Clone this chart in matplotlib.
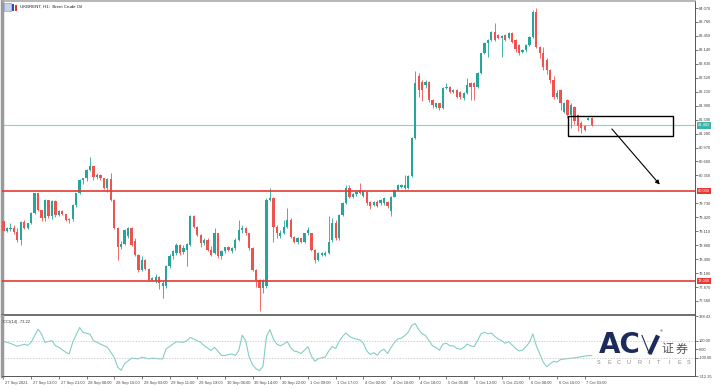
import numpy as np
import matplotlib
matplotlib.use("Agg")
import matplotlib.pyplot as plt
from matplotlib.patches import Rectangle
from matplotlib.lines import Line2D
from matplotlib.transforms import blended_transform_factory, ScaledTranslation

# --- UKBRENT H1 candles ---
opens = [
    79.34, 79.12, 79.16, 79.19, 79.09, 78.92, 79.31, 79.18, 79.29, 79.51,
    79.95, 79.58, 79.40, 79.80, 79.44, 79.78, 79.47, 79.56, 79.49, 79.36,
    79.38, 79.69, 79.95, 80.25, 80.29, 80.47, 80.55, 80.32, 80.36, 80.29,
    80.08, 80.28, 79.80, 79.18, 78.76, 78.83, 79.00, 79.18, 78.90, 78.58,
    78.25, 78.46, 78.28, 78.03, 78.00, 78.10, 77.90, 77.90, 78.33, 78.55,
    78.62, 78.80, 78.64, 78.70, 78.80, 79.44, 79.21, 79.03, 78.85, 78.92,
    78.69, 78.62, 79.06, 78.55, 78.66, 78.75, 78.68, 78.73, 78.92, 79.14,
    79.18, 79.06, 78.73, 78.25, 78.03, 77.85, 77.90, 79.81, 79.84, 79.21,
    79.00, 79.08, 79.21, 79.36, 78.99, 78.88, 78.95, 78.88, 79.06, 79.06,
    78.70, 78.47, 78.58, 78.58, 78.62, 78.92, 79.29, 78.95, 79.47, 79.74,
    80.07, 79.88, 79.93, 80.02, 79.90, 79.99, 79.77, 79.70, 79.77, 79.73,
    79.73, 79.77, 79.55, 79.88, 80.03, 80.10, 80.07, 80.07, 80.33, 81.18,
    82.55, 82.43, 82.36, 82.43, 82.03, 81.88, 81.95, 81.84, 82.29, 82.32,
    82.21, 82.25, 82.21, 82.07, 82.18, 82.40, 82.40, 82.32, 82.62, 83.06,
    83.29, 83.36, 83.54, 83.47, 83.40, 83.47, 83.40, 83.51, 83.36, 83.25,
    83.10, 83.14, 83.25, 83.43, 83.99, 83.21, 83.06, 82.92, 82.69, 82.47,
    82.10, 82.25, 81.77, 82.03, 81.70, 81.88, 81.70, 81.51, 81.44, 81.59,
    81.62,
]
highs = [
    79.36, 79.21, 79.29, 79.25, 79.18, 79.34, 79.36, 79.30, 79.53, 79.97,
    79.97, 79.58, 79.82, 79.80, 79.80, 79.80, 79.58, 79.58, 79.50, 79.40,
    79.72, 79.97, 80.27, 80.30, 80.50, 80.77, 80.55, 80.40, 80.38, 80.30,
    80.30, 80.40, 79.82, 79.20, 78.90, 79.16, 79.20, 79.20, 78.95, 78.60,
    78.55, 78.50, 78.30, 78.10, 78.15, 78.12, 78.00, 78.35, 78.60, 78.70,
    78.84, 78.82, 78.80, 78.84, 79.47, 79.47, 79.23, 79.05, 78.95, 78.95,
    78.78, 79.18, 79.08, 78.70, 78.77, 78.78, 78.77, 78.95, 79.36, 79.25,
    79.20, 79.08, 78.75, 78.28, 78.05, 78.05, 79.84, 80.07, 79.88, 79.25,
    79.14, 79.36, 79.62, 79.40, 79.00, 78.99, 78.97, 79.08, 79.21, 79.08,
    78.72, 78.64, 78.64, 78.66, 79.44, 79.40, 79.36, 79.50, 79.76, 80.14,
    80.14, 79.97, 80.00, 80.18, 80.03, 80.01, 79.79, 79.79, 79.80, 79.83,
    79.86, 79.79, 79.90, 80.05, 80.16, 80.17, 80.36, 80.36, 81.20, 82.66,
    82.62, 82.47, 82.47, 82.45, 82.05, 81.97, 81.97, 82.32, 82.40, 82.34,
    82.27, 82.27, 82.23, 82.20, 82.51, 82.43, 82.42, 82.64, 83.08, 83.31,
    83.38, 83.56, 83.73, 83.49, 83.47, 83.49, 83.53, 83.53, 83.38, 83.28,
    83.17, 83.28, 83.45, 84.03, 84.07, 83.23, 83.21, 82.95, 82.71, 82.55,
    82.25, 82.28, 81.98, 82.05, 81.95, 81.90, 81.72, 81.55, 81.46, 81.64,
    81.64,
]
lows = [
    79.09, 79.09, 79.12, 79.04, 78.88, 78.81, 79.16, 79.15, 79.27, 79.49,
    79.55, 79.33, 79.33, 79.40, 79.38, 79.42, 79.45, 79.46, 79.34, 79.30,
    79.34, 79.65, 79.93, 80.15, 80.22, 80.45, 80.24, 80.28, 80.24, 80.05,
    79.99, 79.78, 79.15, 78.47, 78.72, 78.80, 78.95, 78.78, 78.55, 78.20,
    78.22, 78.25, 78.00, 78.00, 77.95, 77.82, 77.62, 77.85, 78.30, 78.50,
    78.58, 78.58, 78.60, 78.33, 78.78, 79.18, 79.00, 78.77, 78.80, 78.66,
    78.55, 78.60, 78.52, 78.50, 78.62, 78.66, 78.62, 78.70, 78.90, 79.06,
    79.03, 78.70, 78.22, 77.88, 77.33, 77.73, 77.85, 79.78, 78.88, 78.95,
    78.97, 79.05, 79.18, 78.95, 78.84, 78.82, 78.84, 78.85, 79.02, 78.66,
    78.40, 78.44, 78.55, 78.55, 78.60, 78.88, 78.92, 78.92, 79.44, 79.72,
    79.84, 79.85, 79.90, 79.94, 79.88, 79.70, 79.60, 79.68, 79.64, 79.70,
    79.70, 79.62, 79.44, 79.86, 80.01, 80.08, 80.05, 80.05, 80.31, 81.16,
    82.10, 82.00, 82.30, 81.99, 81.84, 81.85, 81.80, 81.82, 82.27, 82.18,
    82.18, 82.08, 82.05, 82.03, 82.15, 82.03, 82.03, 82.30, 82.60, 83.04,
    82.99, 83.34, 83.34, 83.38, 82.99, 83.34, 83.38, 83.30, 83.10, 83.03,
    83.08, 83.10, 83.22, 83.40, 83.18, 82.95, 82.70, 82.60, 82.40, 82.05,
    82.05, 81.81, 81.73, 81.62, 81.40, 81.50, 81.33, 81.30, 81.33, 81.58,
    81.44,
]
closes = [
    79.12, 79.18, 79.19, 79.09, 78.92, 79.31, 79.18, 79.29, 79.51, 79.95,
    79.58, 79.40, 79.80, 79.44, 79.78, 79.47, 79.56, 79.49, 79.36, 79.38,
    79.69, 79.95, 80.25, 80.29, 80.47, 80.55, 80.32, 80.36, 80.29, 80.08,
    80.28, 79.80, 79.18, 78.76, 78.83, 79.14, 79.18, 78.80, 78.58, 78.25,
    78.46, 78.28, 78.03, 78.07, 78.10, 77.95, 77.95, 78.33, 78.55, 78.66,
    78.80, 78.62, 78.74, 78.82, 79.44, 79.21, 79.03, 78.85, 78.92, 78.69,
    78.58, 79.06, 78.55, 78.66, 78.75, 78.70, 78.73, 78.92, 79.14, 79.18,
    79.06, 78.73, 78.25, 78.03, 77.85, 78.03, 79.81, 79.84, 79.21, 79.06,
    79.08, 79.21, 79.36, 78.99, 78.88, 78.95, 78.88, 79.06, 79.14, 78.70,
    78.47, 78.62, 78.62, 78.62, 78.88, 79.29, 78.95, 79.47, 79.74, 80.07,
    79.88, 79.94, 79.98, 79.96, 80.00, 79.73, 79.66, 79.77, 79.66, 79.81,
    79.84, 79.66, 79.88, 80.03, 80.14, 80.14, 80.14, 80.33, 81.18, 82.40,
    82.25, 82.25, 82.43, 82.03, 81.92, 81.95, 81.84, 82.29, 82.32, 82.21,
    82.25, 82.10, 82.10, 82.18, 82.36, 82.32, 82.32, 82.62, 83.06, 83.29,
    83.36, 83.54, 83.36, 83.40, 83.45, 83.36, 83.51, 83.32, 83.17, 83.06,
    83.14, 83.25, 83.43, 83.99, 83.21, 83.06, 82.77, 82.69, 82.47, 82.10,
    82.18, 81.95, 81.95, 81.70, 81.92, 81.55, 81.44, 81.40, 81.37, 81.62,
    81.47,
]

# CCI(14) line, sampled at these bars
cci_bar = [0, 2, 4, 6, 7, 8, 10, 11, 12, 14, 15, 16, 18, 19, 20, 22, 23, 25, 26, 28,
           29, 30, 31, 32, 33, 34, 35, 37, 39, 40, 42, 43, 45, 46, 47, 49, 50, 52, 53, 54,
           55, 57, 58, 60, 61, 63, 64, 66, 67, 68, 69, 70, 71] + list(range(72, 171))
cci_val = [92, 69, 35, 58, 46, 81, 235, 177, 81, 100, 42, 23, -35, -54, 81, 254, 196, 177, 100, 62,
           42, 23, -35, -92, -208, -246, -169, -104, -112, -92, -112, -104, -112, -112, 4, 62, 88, 81, 100, 139,
           119, 81, 42, -15, 23, -73, -73, -54, -73, -15, 165, 100, -92,
           -180, -230, -250, -200, 150, 230, 120, 60, 40, 60,
           90, 20, -20, -30, -50, -10, 30, -80, -140, -110,
           -100, -90, -20, 30, 10, 90, 150, 190, 150, 130,
           120, 110, 70, -20, -60, -40, -70, -20, 0, -50,
           20, 80, 120, 130, 160, 200, 280, 300, 230, 180,
           160, 100, 40, 20, -10, 60, 70, 40, 40, 10,
           0, 20, 60, 40, 30, 100, 180, 200, 180, 190,
           150, 120, 100, 70, 90, 50, 10, -20, -10, 30,
           80, 180, 40, -54, -150, -204, -170, -140, -150, -120,
           -115, -110, -105, -100, -95, -85, -80, -75, -73.22]

support_levels = [80.0, 78.0]
support_labels = ["80.000", "78.000"]
last_price = 81.462

# 80.040 sits under the red 80.000 tag in the terminal, so it is not listed
price_ticks = [84.07, 83.76, 83.45, 83.14, 82.83, 82.52, 82.21, 81.90, 81.59, 81.28, 80.97,
               80.66, 80.35, 79.73, 79.42, 79.11, 78.80, 78.49, 78.18, 77.87, 77.56]
cci_ticks = [388.43, 100, 0, -100, -312.35]
cci_tick_labels = ["388.43", "100.00", "0.00", "-100.00", "-312.35"]

time_tick_bars = list(range(0, 169, 8))
time_labels = ["27 Sep 2021", "27 Sep 13:00", "27 Sep 21:00", "28 Sep 08:00", "28 Sep 16:00",
               "29 Sep 03:00", "29 Sep 11:00", "29 Sep 19:00", "30 Sep 06:00", "30 Sep 14:00",
               "30 Sep 22:00", "1 Oct 09:00", "1 Oct 17:00", "4 Oct 02:00", "4 Oct 10:00",
               "4 Oct 18:00", "5 Oct 05:00", "5 Oct 13:00", "5 Oct 21:00", "6 Oct 08:00",
               "6 Oct 16:00", "7 Oct 03:00"]

# drawn annotation: box round the last bars and the arrow pointing down
box_bars = (163.1, 193.4)
box_prices = (81.23, 81.67)
arrow_from = (175.3, 81.43)
arrow_to = (190.2, 80.10)

TEAL = "#26a69a"
RED = "#ef5350"
LINE_RED = "#e53935"
NAVY = "#1c2b5a"

plt.rcParams["font.family"] = ["Liberation Sans", "DejaVu Sans"]

W, H = 720, 389
fig = plt.figure(figsize=(W / 100, H / 100), dpi=100)


def fx(px):
    return px / W


def fy(py):
    return 1 - py / H


ax = fig.add_axes([fx(2), fy(315), fx(695) - fx(2), fy(1) - fy(315)])
ax2 = fig.add_axes([fx(2), fy(376), fx(695) - fx(2), fy(316) - fy(376)], sharex=ax)

# candles
o = np.array(opens)
c = np.array(closes)
hi = np.array(highs)
lo = np.array(lows)
x = np.arange(len(c))
cols = np.where(c >= o, TEAL, RED)
ax.vlines(x, lo, hi, colors=cols, linewidth=0.6, zorder=2)
ax.bar(x, np.maximum(np.abs(c - o), 0.012), bottom=np.minimum(o, c), width=0.66,
       color=cols, linewidth=0, zorder=3)

for lvl in support_levels:
    ax.axhline(lvl, color=LINE_RED, lw=1.2, zorder=4)
ax.axhline(last_price, color="#7fd6cd", lw=0.8, zorder=1)

ax.add_patch(Rectangle((box_bars[0], box_prices[0]), box_bars[1] - box_bars[0],
                       box_prices[1] - box_prices[0], fill=False, ec="black", lw=1.0, zorder=5))
ax.annotate("", xy=arrow_to, xytext=arrow_from,
            arrowprops=dict(arrowstyle="-|>", color="black", lw=0.8, mutation_scale=6))

ax.set_xlim(-0.43, 199.86)
ax.set_ylim(77.248, 84.226)
ax.yaxis.tick_right()
ax.set_yticks(price_ticks)
ax.set_yticklabels([f"{v:.3f}" for v in price_ticks])
ax.tick_params(axis="y", length=2, width=0.5, labelsize=2.9, colors="#444", pad=1)
ax.tick_params(axis="x", bottom=False, labelbottom=False)

trans = blended_transform_factory(ax.transAxes, ax.transData)
for lvl, txt in zip(support_levels, support_labels):
    ax.text(1.004, lvl, txt, transform=trans, fontsize=2.9, color="white", va="center", ha="left",
            bbox=dict(boxstyle="square,pad=0.3", fc=LINE_RED, ec="none"), clip_on=False, zorder=6)
ax.text(1.004, last_price, f"{last_price:.3f}", transform=trans, fontsize=2.9, color="white",
        va="center", ha="left", bbox=dict(boxstyle="square,pad=0.3", fc="#3fb2a5", ec="none"),
        clip_on=False, zorder=6)

for a in (ax, ax2):
    a.spines["left"].set_color("#9a9a9a")
    a.spines["left"].set_linewidth(2.5)
    a.spines["right"].set_color("#555")
    a.spines["right"].set_linewidth(0.7)
ax.spines["top"].set_color("#aaa")
ax.spines["top"].set_linewidth(1.2)
ax.spines["bottom"].set_color("#555")
ax.spines["bottom"].set_linewidth(1.2)
ax2.spines["top"].set_visible(False)
ax2.spines["bottom"].set_color("#555")
ax2.spines["bottom"].set_linewidth(0.7)

# CCI panel
ax2.plot(cci_bar, cci_val, color="#82cfc6", lw=0.8)
for lvl in (100, -100):
    ax2.axhline(lvl, color="#bdbdbd", lw=0.5, ls=(0, (2, 2)))
ax2.set_ylim(-312.35, 388.43)
ax2.yaxis.tick_right()
ax2.set_yticks(cci_ticks)
ax2.set_yticklabels(cci_tick_labels)
ax2.tick_params(axis="y", length=2, width=0.5, labelsize=2.9, colors="#444", pad=1)
ax2.text(0.002, 0.93, "CCI(14) -73.22", transform=ax2.transAxes, fontsize=3, va="top", color="#333")

ax2.set_xticks(time_tick_bars)
ax2.set_xticklabels(time_labels, fontsize=2.9, ha="left", color="#333")
ax2.tick_params(axis="x", length=2.5, width=0.5, pad=1, colors="#444")
shift = ScaledTranslation(1.2 / 72, 0, fig.dpi_scale_trans)
for lab in ax2.get_xticklabels():
    lab.set_transform(lab.get_transform() + shift)

# title and icon
fig.patches.append(Rectangle((fx(4), fy(11)), fx(7), fy(3) - fy(11), transform=fig.transFigure,
                             fc="#c9d3ec", ec="#7a8ab8", lw=0.4))
fig.patches.append(Rectangle((fx(12), fy(11)), fx(2), fy(4) - fy(11), transform=fig.transFigure,
                             fc="#2a4ea0", ec="none"))
fig.patches.append(Rectangle((fx(15), fy(11)), fx(2), fy(5) - fy(11), transform=fig.transFigure,
                             fc="#d23b3b", ec="none"))
fig.text(fx(20), fy(7), "UKBRENT, H1:  Brent Crude Oil", fontsize=3.2, va="center", color="#222")

# ACY logo
fig.text(fx(599), fy(345), "AC", fontsize=20, fontweight="bold", color=NAVY,
         va="center", ha="left", family="DejaVu Sans")
fig.lines.append(Line2D([fx(642), fx(649.5)], [fy(335.5), fy(354)], transform=fig.transFigure,
                        color=NAVY, lw=0.8))
fig.lines.append(Line2D([fx(649.5), fx(658)], [fy(354), fy(335.5)], transform=fig.transFigure,
                        color=NAVY, lw=3.2, solid_capstyle="butt"))
fig.text(fx(660), fy(331), "®", fontsize=3, color=NAVY, va="center")
for ch, px in (("证", 661), ("券", 676)):
    fig.text(fx(px), fy(349), ch, fontsize=8.6, color="#555",
             family=["Noto Sans CJK SC", "DejaVu Sans"], va="center", ha="left")
for i, ch in enumerate("SECURITIES"):
    fig.text(fx(599 + i * 10), fy(362.5), ch, fontsize=4, color="#8a8a8a", va="center", ha="center")

fig.savefig("out.png", dpi=100)
